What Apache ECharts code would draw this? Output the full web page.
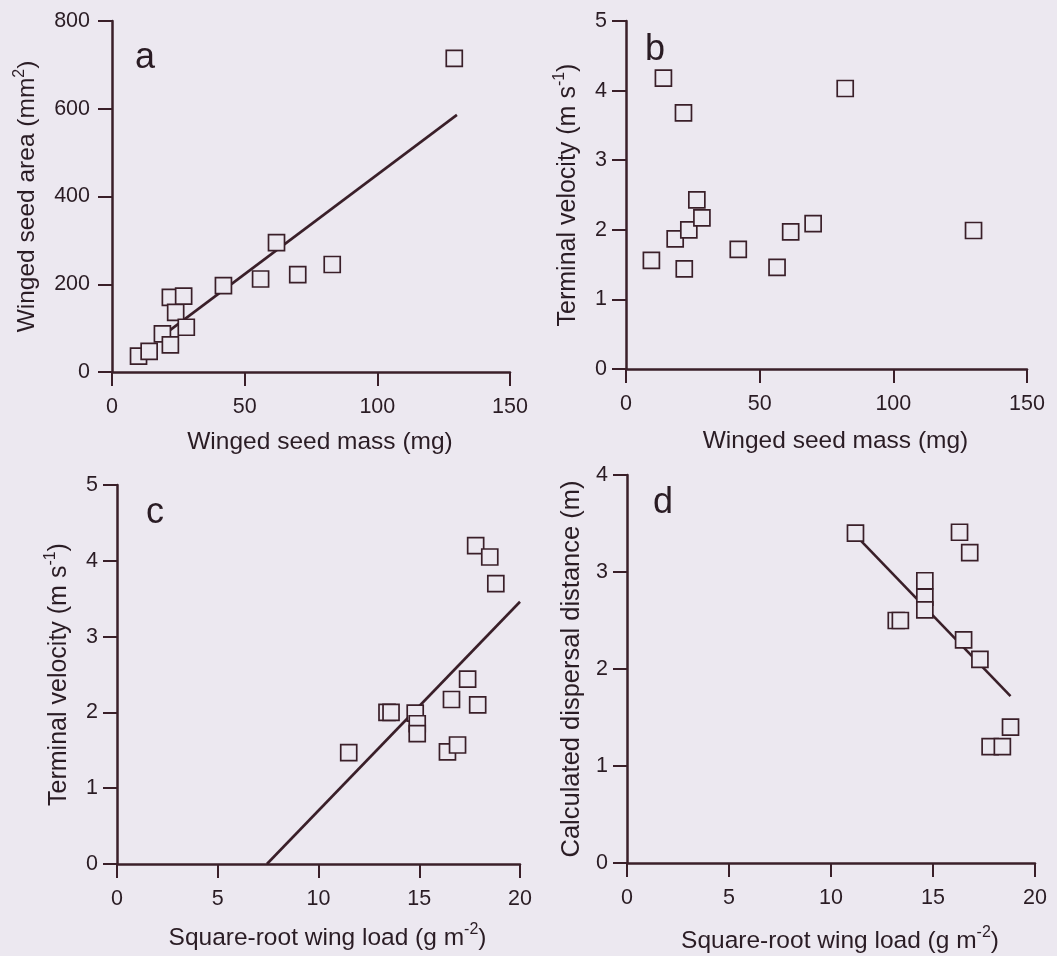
<!DOCTYPE html>
<html>
<head>
<meta charset="utf-8">
<script src="https://cdn.jsdelivr.net/npm/echarts@6/dist/echarts.min.js"></script>
<style>
html,body{margin:0;padding:0;background:#ece8f0;}
#chart{width:1057px;height:956px;}
</style>
</head>
<body>
<div id="chart"></div>
<script>
// ---- data ----
const massA = [10, 14, 19, 22, 22, 24, 27, 28, 42, 56, 62, 70, 83, 129];
const areaA = [36, 47, 87, 62, 170, 136, 173, 102, 197, 212, 295, 222, 245, 715];
const fitAx = [22, 130];
const fitAy = [96, 586];

const massB = [9.5, 14, 18.4, 21.5, 21.8, 23.5, 26.5, 28.4, 42, 56.5, 61.6, 70, 82, 130];
const velB  = [1.56, 4.18, 1.87, 3.68, 1.44, 2.0, 2.43, 2.17, 1.72, 1.46, 1.97, 2.09, 4.03, 1.99];

const loadC = [11.5, 13.4, 13.6, 14.8, 14.9, 14.9, 16.4, 16.6, 16.9, 17.4, 17.8, 17.9, 18.5, 18.8];
const velC  = [1.47, 2.0, 2.0, 1.99, 1.85, 1.72, 1.48, 2.17, 1.57, 2.44, 4.2, 2.1, 4.05, 3.7];
const fitCx = [7.44, 20];
const fitCy = [0, 3.46];

const loadD = [11.2, 13.2, 13.4, 14.6, 14.6, 14.6, 16.3, 16.5, 16.8, 17.3, 17.8, 18.4, 18.8];
const distD = [3.4, 2.5, 2.5, 2.91, 2.74, 2.61, 3.41, 2.3, 3.2, 2.1, 1.2, 1.2, 1.4];
const fitDx = [11.2, 18.8];
const fitDy = [3.38, 1.72];

// ---- styling ----
const INK = '#3a1f29';
const TXT = '#2a1c24';
const BG = '#ece8f0';
const FONT = 'Liberation Sans, Arial, sans-serif';

function zip(xs, ys) { return xs.map((x, i) => [x, ys[i]]); }

function rich(fs) {
  return {
    n: { fontSize: fs, fontFamily: FONT, color: TXT, lineHeight: fs + 4, verticalAlign: 'bottom' },
    s: { fontSize: Math.round(fs * 0.65), fontFamily: FONT, color: TXT, lineHeight: Math.round(fs * 0.65), verticalAlign: 'top', padding: [0, 0, Math.round(fs * 0.95), 0] }
  };
}

function xAxis(gi, max, interval, name, gap, margin) {
  return {
    type: 'value', gridIndex: gi, min: 0, max: max, interval: interval,
    name: name, nameLocation: 'middle', nameGap: gap,
    nameTextStyle: { fontSize: 24.5, fontFamily: FONT, color: TXT, rich: rich(24.5), padding: [0, 0, 0, 18] },
    axisLine: { show: true, onZero: false, lineStyle: { color: INK, width: 2.5 } },
    axisTick: { show: true, inside: false, length: 14, lineStyle: { color: INK, width: 2 } },
    axisLabel: { fontSize: 21.5, fontFamily: FONT, color: TXT, margin: margin },
    splitLine: { show: false }
  };
}
function yAxis(gi, max, interval, name, gap, margin, fs) {
  return {
    type: 'value', gridIndex: gi, min: 0, max: max, interval: interval,
    name: name, nameLocation: 'middle', nameGap: gap,
    nameTextStyle: { fontSize: fs, fontFamily: FONT, color: TXT, rich: rich(fs) },
    axisLine: { show: true, onZero: false, lineStyle: { color: INK, width: 2.5 } },
    axisTick: { show: true, inside: false, length: 14, lineStyle: { color: INK, width: 2 } },
    axisLabel: { fontSize: 21.5, fontFamily: FONT, color: TXT, margin: margin },
    splitLine: { show: false }
  };
}
function scatter(gi, data) {
  return {
    type: 'scatter', xAxisIndex: gi, yAxisIndex: gi, data: data,
    symbol: 'rect', symbolSize: 16, z: 5,
    itemStyle: { color: BG, borderColor: INK, borderWidth: 1.7, opacity: 1 },
    emphasis: { disabled: true }
  };
}
function fit(gi, data) {
  return {
    type: 'line', xAxisIndex: gi, yAxisIndex: gi, data: data,
    showSymbol: false, symbol: 'none', z: 2,
    lineStyle: { color: INK, width: 2.6 }, silent: true
  };
}
function letter(t, x, y) {
  return { type: 'text', x: x, y: y, style: { text: t, fontSize: 36, fontFamily: FONT, fill: TXT, align: 'center', verticalAlign: 'middle' } };
}

const chart = echarts.init(document.getElementById('chart'), null, { renderer: 'canvas' });
chart.setOption({
  backgroundColor: BG,
  animation: false,
  grid: [
    { left: 112, top: 21, width: 398, height: 351, outerBoundsMode: 'none' },
    { left: 626, top: 21, width: 401, height: 348, outerBoundsMode: 'none' },
    { left: 117, top: 485, width: 403, height: 379, outerBoundsMode: 'none' },
    { left: 627, top: 475, width: 408, height: 388, outerBoundsMode: 'none' }
  ],
  xAxis: [
    xAxis(0, 150, 50, '{n|Winged seed mass (mg)}', 54, 24),
    xAxis(1, 150, 50, '{n|Winged seed mass (mg)}', 56, 24),
    xAxis(2, 20, 5, '{n|Square-root wing load (g m}{s|-2}{n|)}', 58, 24),
    xAxis(3, 20, 5, '{n|Square-root wing load (g m}{s|-2}{n|)}', 62, 24)
  ],
  yAxis: [
    yAxis(0, 800, 200, '{n|Winged seed area (mm}{s|2}{n|)}', 66, 22, 24.5),
    yAxis(1, 5, 1, '{n|Terminal velocity (m s}{s|-1}{n|)}', 42, 19, 25),
    yAxis(2, 5, 1, '{n|Terminal velocity (m s}{s|-1}{n|)}', 38, 19, 25),
    yAxis(3, 4, 1, '{n|Calculated dispersal distance (m)}', 42, 19, 25.5)
  ],
  series: [
    fit(0, zip(fitAx, fitAy)),
    scatter(0, zip(massA, areaA)),
    scatter(1, zip(massB, velB)),
    fit(2, zip(fitCx, fitCy)),
    scatter(2, zip(loadC, velC)),
    fit(3, zip(fitDx, fitDy)),
    scatter(3, zip(loadD, distD))
  ],
  graphic: [
    letter('a', 145, 58),
    letter('b', 655, 50),
    letter('c', 155, 513),
    letter('d', 663, 503)
  ]
});
</script>
</body>
</html>
